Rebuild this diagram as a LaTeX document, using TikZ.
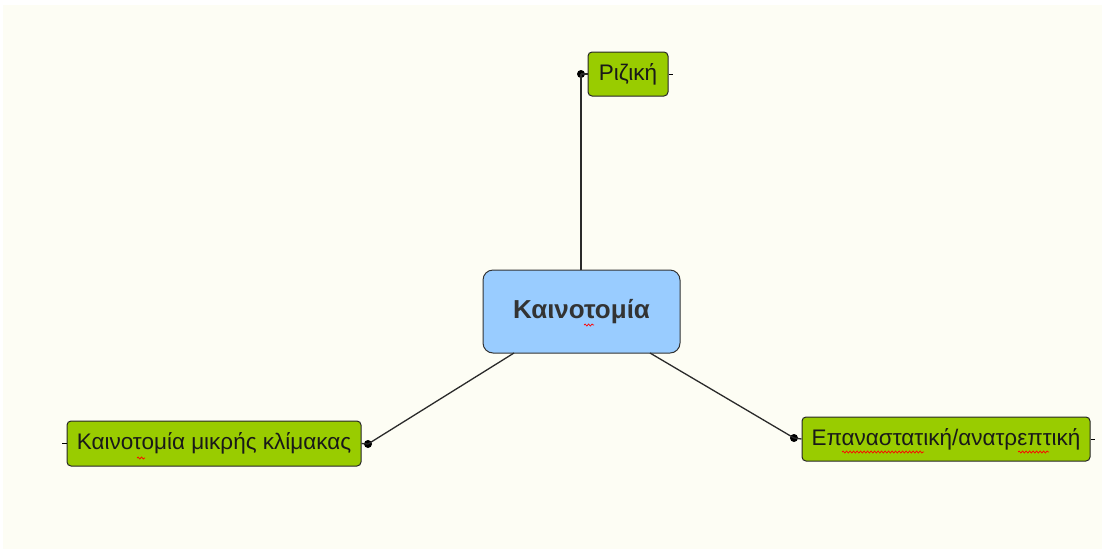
\documentclass[tikz,border=0pt]{standalone}
\usepackage{fontspec}
\setmainfont{Liberation Sans}
\usetikzlibrary{decorations.pathmorphing}
\definecolor{bgcream}{HTML}{FDFDF4}
\definecolor{leafgreen}{HTML}{99CC00}
\definecolor{rootblue}{HTML}{99CCFF}
\definecolor{rootText}{HTML}{333333}
\definecolor{linegray}{HTML}{2A2A2A}
\tikzset{
  leaf/.style={draw=black!85, fill=leafgreen, rounded corners=4pt, line width=1pt,
    inner sep=0pt, font=\fontsize{22.5}{26}\selectfont, text=black!90},
  root/.style={draw=black!80, fill=rootblue, rounded corners=10pt, line width=1pt,
    inner sep=0pt, font=\fontsize{26}{30}\selectfont\bfseries, text=rootText},
  conn/.style={draw=linegray, line width=1.3pt},
  knob/.style={circle, fill=black, inner sep=0pt, minimum size=8pt},
  tick/.style={draw=black, line width=1pt},
  spell/.style={draw=red, line width=0.7pt, decorate, decoration={snake, amplitude=1pt, segment length=3.5pt}}
}
\begin{document}
\begin{tikzpicture}[x=1pt,y=-1pt]
\useasboundingbox (0,0) rectangle (1102,550);
\fill[bgcream] (3,5) rectangle (1102,549);

\node[root, minimum width=197pt, minimum height=83pt] (root) at (581.5,311.5) {Καινοτομία};
\node[leaf, minimum width=80pt, minimum height=44pt] (riz) at (628,74) {Ριζική};
\node[leaf, minimum width=294pt, minimum height=45pt] (small) at (214,443.5) {Καινοτομία μικρής κλίμακας};
\node[leaf, minimum width=288pt, minimum height=44pt] (rev) at (946,439) {Επαναστατική/ανατρεπτική};

\node[knob] (kriz) at (581,74) {};
\node[knob] (ksmall) at (368,444) {};
\node[knob] (krev) at (794,438) {};

\coordinate (rtop) at (581,270);
\coordinate (rbl) at (514,353);
\coordinate (rbr) at (650,353);

\draw[conn] (rtop) -- (kriz.center);
\draw[conn] (rbl) -- (ksmall.center);
\draw[conn] (rbr) -- (krev.center);

\draw[conn] (kriz.center) -- (riz.west);
\draw[conn] (ksmall.center) -- (small.east);
\draw[conn] (krev.center) -- (rev.west);

\coordinate (trz) at (673,74);
\coordinate (tsm) at (62,443.5);
\coordinate (trv) at (1095,439);
\draw[tick] (riz.east) -- (trz);
\draw[tick] (small.west) -- (tsm);
\draw[tick] (rev.east) -- (trv);

% spell-check marks
\draw[spell] (584,325) -- (594,325);
\draw[spell] (137,458) -- (145,458);
\draw[spell] (842,452) -- (924,452);
\draw[spell] (1018,452) -- (1049,452);
\end{tikzpicture}
\end{document}
